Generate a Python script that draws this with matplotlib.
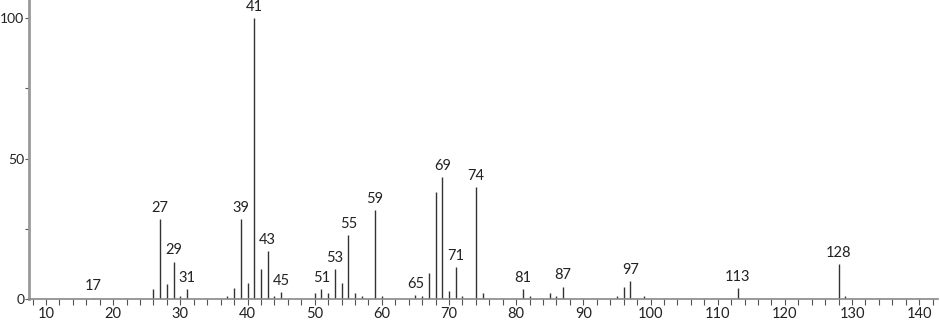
import matplotlib
matplotlib.use('Agg')
import matplotlib.pyplot as plt
import numpy as np

# m/z and relative intensity
mz = [17, 26, 27, 28, 29, 30, 31, 37, 38, 39, 40, 41, 42, 43, 44, 45,
      50, 51, 52, 53, 54, 55, 56, 57, 59, 60, 65, 66, 67, 68, 69, 70,
      71, 72, 74, 75, 81, 82, 85, 86, 87, 95, 96, 97, 99, 113, 128, 129]
intensity = [0.5, 3.6, 28.5, 5.3, 13.3, 1.2, 3.6, 1.2, 3.9, 28.5, 5.7, 100, 10.7, 17.1, 1.2, 2.6,
             2.0, 3.6, 2.0, 10.7, 5.7, 22.8, 2.1, 1.2, 31.8, 1.2, 1.4, 1.0, 9.3, 38.2, 43.5, 2.8,
             11.4, 1.0, 39.8, 2.0, 3.6, 1.0, 2.2, 1.2, 4.4, 1.0, 4.2, 6.5, 1.0, 3.9, 12.4, 1.1]
labeled = [17, 27, 29, 31, 39, 41, 43, 45, 51, 53, 55, 59, 65, 69, 71, 74, 81, 87, 97, 113, 128]

plt.rcParams['font.family'] = ['Lato', 'DejaVu Sans']

fig = plt.figure(figsize=(9.4, 3.22), dpi=100)
ax = fig.add_axes([29 / 940, 23 / 322, (938 - 29) / 940, 299 / 322])

ax.vlines(mz, 0, intensity, colors='#333333', linewidth=1.0)
for m, h in zip(mz, intensity):
    if m in labeled:
        ax.annotate(str(m), (m, h), xytext=(0, 3), textcoords='offset points',
                    ha='center', va='bottom', fontsize=10.5, color='#222222')

ax.set_xlim(7.47, 142.8)
ax.set_ylim(0, 106.5)

ax.set_xticks(np.arange(10, 141, 10))
ax.set_xticks(np.arange(8, 143, 2), minor=True)
ax.set_yticks([0, 50, 100])
ax.set_yticks([25, 75], minor=True)

for side in ['top', 'right']:
    ax.spines[side].set_visible(False)
ax.spines['left'].set_color('#999999')
ax.spines['left'].set_linewidth(2)
ax.spines['bottom'].set_color('#888888')
ax.spines['bottom'].set_linewidth(1.2)

ax.tick_params(axis='both', which='both', direction='out', color='#555555', width=0.8,
               labelsize=10.5, labelcolor='#222222')
ax.tick_params(axis='x', which='major', length=4, pad=2)
ax.tick_params(axis='x', which='minor', length=4)
ax.tick_params(axis='y', which='both', length=3, pad=0.5, labelsize=10)

fig.savefig('out.png', dpi=100)
